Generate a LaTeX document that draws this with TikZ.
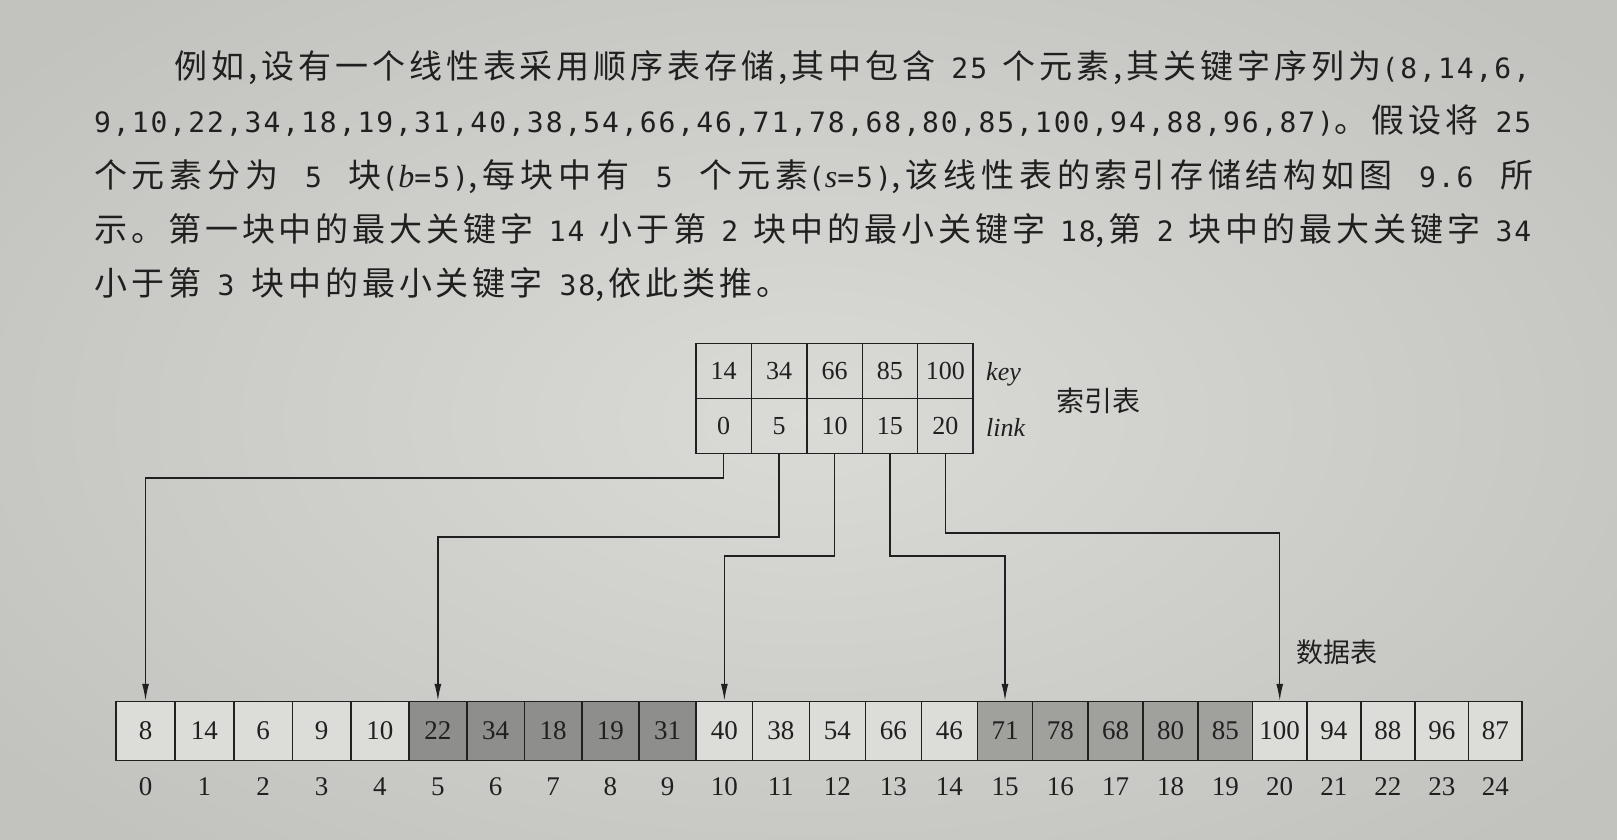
\documentclass[tikz,border=0pt]{standalone}
\usepackage{fontspec}
\setmainfont{Liberation Serif}
\newfontfamily\cjk[LetterSpace=12]{Noto Sans CJK SC}
\newfontfamily\cjkwide[LetterSpace=14.5]{Noto Sans CJK SC}
\newfontfamily\cjkplain{Noto Sans CJK SC}
\newfontfamily\numf[LetterSpace=7]{DejaVu Sans Mono}
\usetikzlibrary{arrows.meta}
\definecolor{paperin}{RGB}{218,218,214}
\definecolor{paperout}{RGB}{194,194,191}
\definecolor{ink}{RGB}{32,32,32}
\definecolor{shadeA}{RGB}{142,142,140}
\definecolor{shadeB}{RGB}{160,160,157}
\definecolor{cellw}{RGB}{220,220,217}
\newcommand\nm[1]{{\numf\fontsize{28}{28}\selectfont #1}}
\newcommand\ital[1]{{\rmfamily\itshape\fontsize{32}{32}\selectfont #1}}
\tikzset{
  para/.style={anchor=base west, inner sep=0pt, text=ink, font=\cjk\fontsize{33}{40}\selectfont},
  icell/.style={draw=ink, line width=1.4pt, minimum width=55.4pt, minimum height=55pt, inner sep=0pt, text=ink, font=\fontsize{26}{26}\selectfont},
  dcell/.style={draw=ink, line width=1.4pt, minimum height=59pt, inner sep=0pt, text=ink, font=\fontsize{27}{27}\selectfont},
  idx/.style={inner sep=0pt, text=ink, font=\fontsize{27}{27}\selectfont},
  lab/.style={inner sep=0pt, text=ink},
  conn/.style={draw=ink, line width=1.4pt, -{Latex[length=17pt,width=7pt]}}
}
\begin{document}
\begin{tikzpicture}[x=1pt,y=-1pt]
\useasboundingbox (0,0) rectangle (1617,839);
\shade[inner color=paperin, outer color=paperout] (-200,-150) rectangle (1817,989);
% paragraph
\node[para] (p1) at (174,78) {\makebox[1356pt][s]{例如,设有一个线性表采用顺序表存储,其中包含 \nm{25} 个元素,其关键字序列为\nm{(8,14,6,}}};
\node[para] (p2) at (94,132) {\makebox[1437pt][s]{\nm{9,10,22,34,18,19,31,40,38,54,66,46,71,78,68,80,85,100,94,88,96,87)}。假设将 \nm{25}}};
\node[para, font=\cjkwide\fontsize{33}{40}\selectfont] (p3) at (94,187) {\makebox[1439pt][s]{个元素分为 \nm{5} 块\nm{(}\ital{b}\nm{=5)},每块中有 \nm{5} 个元素\nm{(}\ital{s}\nm{=5)},该线性表的索引存储结构如图 \nm{9.6} 所}};
\node[para] (p4) at (94,241) {\makebox[1437pt][s]{示。第一块中的最大关键字 \nm{14} 小于第 \nm{2} 块中的最小关键字 \nm{18},第 \nm{2} 块中的最大关键字 \nm{34}}};
\node[para] (p5) at (94,295) {\makebox[695pt][s]{小于第 \nm{3} 块中的最小关键字 \nm{38},依此类推。}};
% index table
\foreach \k/\l [count=\i from 0] in {14/0,34/5,66/10,85/15,100/20}{
  \node[icell] (k\i) at ({696+55.4*(\i+0.5)},371) {\k};
  \node[icell] (l\i) at ({696+55.4*(\i+0.5)},426) {\l};
}
\node[lab, anchor=west, font=\itshape\fontsize{26}{26}\selectfont] (keylab) at (986,374) {key};
\node[lab, anchor=west, font=\itshape\fontsize{26}{26}\selectfont] (linklab) at (986,427) {link};
\node[lab, font=\cjkplain\fontsize{28}{28}\selectfont] (idxname) at (1098,401) {索引表};
% data table (cell widths shrink slightly from left to right)
\foreach \v/\f [count=\i from 0] in {8/cellw,14/cellw,6/cellw,9/cellw,10/cellw,22/shadeA,34/shadeA,18/shadeA,19/shadeA,31/shadeA,40/cellw,38/cellw,54/cellw,66/cellw,46/cellw,71/shadeB,78/shadeB,68/shadeB,80/shadeB,85/shadeB,100/cellw,94/cellw,88/cellw,96/cellw,87/cellw}{
  \pgfmathsetmacro\cw{59.06-0.235*\i}
  \pgfmathsetmacro\cx{116+59.06*\i-0.235*\i*(\i-1)/2+\cw/2}
  \node[dcell, fill=\f, minimum width=\cw pt] (d\i) at (\cx,731) {\v};
}
\foreach \i in {0,...,24}{
  \node[idx] (n\i) at (d\i.south |- 0,787) {\i};
}
\node[lab, anchor=west, font=\cjkplain\fontsize{27}{27}\selectfont] (dataname) at (1296,652) {数据表};
% connectors
\draw[conn] (l0.south) -- (l0.south |- 0,478) -- (d0.north |- 0,478) -- (d0.north);
\draw[conn] (l1.south) -- (l1.south |- 0,537) -- (d5.north |- 0,537) -- (d5.north);
\draw[conn] (l2.south) -- (l2.south |- 0,556) -- (d10.north |- 0,556) -- (d10.north);
\draw[conn] (l3.south) -- (l3.south |- 0,556) -- (d15.north |- 0,556) -- (d15.north);
\draw[conn] (l4.south) -- (l4.south |- 0,533) -- (d20.north |- 0,533) -- (d20.north);
\end{tikzpicture}
\end{document}
